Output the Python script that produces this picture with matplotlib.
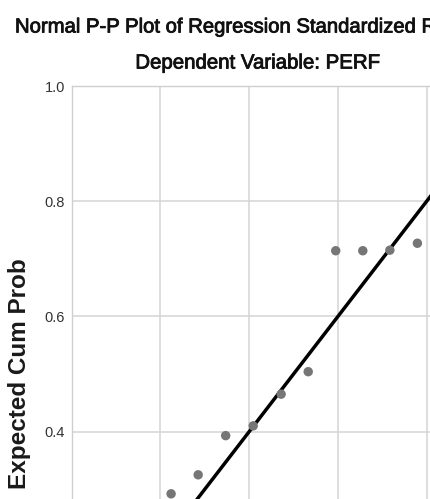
import matplotlib
matplotlib.use("Agg")
import matplotlib.pyplot as plt
import matplotlib.patheffects as pe

# Data
observed_cum_prob = [0.224, 0.285, 0.347, 0.409, 0.472, 0.533, 0.595, 0.656, 0.717, 0.779]
expected_cum_prob = [0.292, 0.325, 0.393, 0.410, 0.465, 0.504, 0.714, 0.714, 0.715, 0.727]
ref_line = [0.0, 1.0]
y_ticks = [0.4, 0.6, 0.8, 1.0]
x_ticks = [0.0, 0.2, 0.4, 0.6, 0.8, 1.0]
title = "Normal P-P Plot of Regression Standardized Residual"
subtitle = "Dependent Variable: PERF"
y_label = "Expected Cum Prob"

FAM = ["Liberation Sans", "DejaVu Sans"]
plt.rcParams["font.family"] = FAM

W, H = 430, 499
fig = plt.figure(figsize=(W / 100, H / 100), dpi=100)

# axes geometry in pixels (extends beyond the cropped figure)
x0, xw = 71.7, 443.75
ytop, yh = 86.0, 576.0
ax = fig.add_axes([x0 / W, 1 - (ytop + yh) / H, xw / W, yh / H])
ax.set_xlim(0, 1)
ax.set_ylim(0, 1)

ax.grid(True, color="#d4d4d4", linewidth=1.1)
ax.set_axisbelow(True)
for s in ax.spines.values():
    s.set_color("#cfcfcf")
    s.set_linewidth(1.0)

ax.set_xticks(x_ticks)
ax.set_yticks(y_ticks)
ax.set_yticklabels([f"{v:.1f}" for v in y_ticks])
ax.tick_params(axis="both", length=0, pad=5, labelsize=10.5, labelcolor="#333333")
ax.tick_params(axis="x", labelbottom=False)

ax.plot(ref_line, ref_line, color="black", linewidth=2.5, zorder=3)
ax.scatter(observed_cum_prob, expected_cum_prob, s=46, color="#767676",
           edgecolors="none", zorder=4)

heavy = [pe.withStroke(linewidth=0.6, foreground="#111111")]
fig.text(15 / W, 1 - 27 / H, title, ha="left", va="center", fontsize=14.6,
         color="#111111", path_effects=heavy)
fig.text(257.5 / W, 1 - 63 / H, subtitle, ha="center", va="center", fontsize=14.7,
         color="#111111", path_effects=heavy)
fig.text(19.5 / W, 1 - 374 / H, y_label, ha="center", va="center", rotation=90,
         fontsize=17.5, fontweight="bold", color="#1a1a1a")

fig.savefig("out.png", dpi=100)
